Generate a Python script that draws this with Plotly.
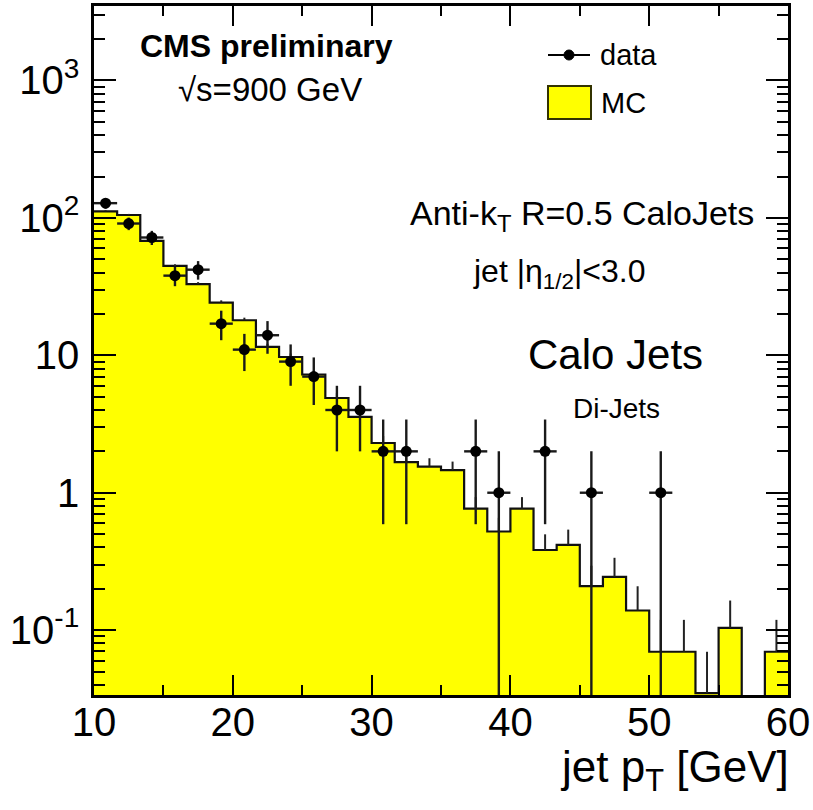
import numpy as np
import plotly.graph_objects as go

# ---------------- data ----------------
bin_edges = np.linspace(10, 60, 31)          # jet pT bins [GeV], width 5/3 GeV
bin_centers = 0.5 * (bin_edges[:-1] + bin_edges[1:])
bin_width = bin_edges[1] - bin_edges[0]

mc_values = [111.7, 105.0, 68.1, 44.7, 33.0, 24.2, 18.0, 11.5, 9.72, 7.25,
             4.89, 3.56, 2.30, 1.67, 1.55, 1.46, 0.766, 0.522, 0.766, 0.383,
             0.418, 0.209, 0.244, 0.139, 0.0696, 0.0696, 0.0348, 0.104, 0.0, 0.0696]
mc_errors = [1.97, 1.91, 1.54, 1.25, 1.07, 0.918, 0.79, 0.633, 0.582, 0.502,
             0.413, 0.352, 0.283, 0.241, 0.232, 0.225, 0.163, 0.135, 0.163, 0.115,
             0.121, 0.0853, 0.0921, 0.0696, 0.0492, 0.0492, 0.0348, 0.0602, 0.0, 0.0492]

data_bins = [0, 1, 2, 3, 4, 5, 6, 7, 8, 9, 10, 11, 12, 13, 16, 17, 19, 21, 24]
data_counts = [128, 91, 72, 38, 42, 17, 11, 14, 9, 7, 4, 4, 2, 2, 2, 1, 2, 1, 1]
data_errors = [11.31, 9.54, 8.49, 6.16, 6.48, 4.12, 3.32, 3.74, 3.0, 2.65,
               2.0, 2.0, 1.41, 1.41, 1.41, 1.0, 1.41, 1.0, 1.0]

x_ticks = [10, 20, 30, 40, 50, 60]
y_ticks = [0.1, 1, 10, 100, 1000]
y_ticktext = ["10<sup>-1</sup>", "1", "10", "10<sup>2</sup>", "10<sup>3</sup>"]

# ---------------- derived helpers ----------------
FONT = "Liberation Sans, Arial, Helvetica, sans-serif"
data_x = [bin_centers[i] for i in data_bins]
step_x = list(bin_edges)
step_y = [v if v > 0 else 1e-4 for v in mc_values] + [mc_values[-1] if mc_values[-1] > 0 else 1e-4]
mc_x = [c for c, v in zip(bin_centers, mc_values) if v > 0]
mc_y = [v for v in mc_values if v > 0]
mc_e = [e for e, v in zip(mc_errors, mc_values) if v > 0]
minor_y = [k * 10.0 ** d for d in range(-2, 4) for k in range(2, 10)]

fig = go.Figure()

# MC filled histogram
fig.add_trace(go.Bar(x=bin_centers, y=[v if v > 0 else None for v in mc_values],
                     width=bin_width, marker=dict(color="#ffff00", line=dict(width=0)),
                     showlegend=False, hoverinfo="skip"))
# MC outline
fig.add_trace(go.Scatter(x=step_x, y=step_y, mode="lines", line=dict(color="#111111", width=2.2, shape="hv"),
                         showlegend=False, hoverinfo="skip"))
# MC error bars (upper part visible)
fig.add_trace(go.Scatter(x=mc_x, y=mc_y, mode="markers",
                         marker=dict(size=1, color="rgba(0,0,0,0)"),
                         error_y=dict(type="data", symmetric=False, array=mc_e,
                                      arrayminus=[0] * len(mc_e), color="#222222", thickness=2, width=0),
                         showlegend=False, hoverinfo="skip"))
# data points
fig.add_trace(go.Scatter(x=data_x, y=data_counts, mode="markers",
                         marker=dict(size=11, color="black", symbol="circle"),
                         error_y=dict(type="data", array=data_errors, color="#1a1a1a", thickness=2.4, width=0),
                         error_x=dict(type="constant", value=bin_width / 2, color="#1a1a1a", thickness=2.4, width=0),
                         showlegend=False))

fig.update_layout(
    width=813, height=810,
    margin=dict(l=94, r=25, t=6, b=115, autoexpand=False),
    paper_bgcolor="white", plot_bgcolor="white",
    bargap=0, showlegend=False,
    font=dict(family=FONT, color="black"),
)
fig.update_xaxes(range=[10, 60], showgrid=False, zeroline=False, automargin=False,
                 showline=True, linecolor="black", linewidth=2.5, mirror="allticks",
                 ticks="inside", ticklen=20, tickwidth=2, tickcolor="black",
                 tickmode="array", tickvals=x_ticks, ticktext=[str(v) for v in x_ticks],
                 tickfont=dict(size=40, family=FONT, color="black"),
                 ticklabelstandoff=-10,
                 minor=dict(ticks="inside", dtick=5, ticklen=10, tickwidth=2, tickcolor="black", showgrid=False))
fig.update_yaxes(type="log", range=[-1.472, 3.542], showgrid=False, zeroline=False, automargin=False,
                 showline=True, linecolor="black", linewidth=2.5, mirror="allticks",
                 ticks="inside", ticklen=22, tickwidth=2, tickcolor="black",
                 tickmode="array", tickvals=y_ticks, ticktext=y_ticktext,
                 tickfont=dict(size=40, family=FONT, color="black"),
                 ticklabelstandoff=4,
                 minor=dict(ticks="inside", tickmode="array", tickvals=minor_y, ticklen=11,
                            tickwidth=2, tickcolor="black", showgrid=False))

# ---------------- text & legend ----------------
def px(x):
    return (x - 94) / 694.0

def py(y):
    return (695 - y) / 689.0

def note(text, x, y, size, xanchor="center", bold=False):
    fig.add_annotation(text=("<b>%s</b>" % text) if bold else text, x=px(x), y=py(y),
                       xref="paper", yref="paper", xanchor=xanchor, yanchor="middle",
                       showarrow=False, font=dict(size=size, family=FONT, color="black"))

note("CMS preliminary", 266, 46, 32, bold=True)
note("\u221As=900 GeV", 270, 89, 33)
note("Anti-k<sub>T</sub> R=0.5 CaloJets", 582, 216, 34)
note("jet |\u03b7<sub>1/2</sub>|<3.0", 559, 273, 32)
note("Calo Jets", 615, 355, 42)
note("Di-Jets", 616, 408, 28)
note("jet p<sub>T</sub> [GeV]", 791, 770, 44, xanchor="right")

# legend: data
fig.add_shape(type="line", xref="paper", yref="paper", x0=px(548), x1=px(590), y0=py(55), y1=py(55),
              line=dict(color="black", width=2))
fig.add_shape(type="circle", xref="paper", yref="paper", x0=px(564), x1=px(574), y0=py(60), y1=py(50),
              line=dict(color="black", width=1), fillcolor="black")
note("data", 598, 55, 29, xanchor="left")
# legend: MC
fig.add_shape(type="rect", xref="paper", yref="paper", x0=px(548), x1=px(591), y0=py(119), y1=py(86),
              line=dict(color="#333300", width=2), fillcolor="#ffff00")
note("MC", 599, 103, 29, xanchor="left")

fig.write_html("out.html", config={"displayModeBar": False},
               post_script="document.body.style.margin='0px';document.body.style.padding='0px';")
